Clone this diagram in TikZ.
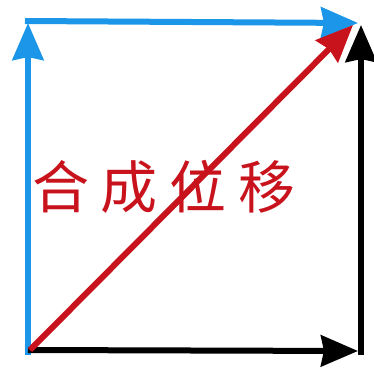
\documentclass[tikz,border=0pt]{standalone}
\usepackage{fontspec}
\newfontfamily\cjk{Noto Sans CJK SC}
\usetikzlibrary{arrows.meta}
\definecolor{vblue}{RGB}{27,150,232}
\definecolor{vred}{RGB}{200,18,28}
\tikzset{
  vec/.style={line width=6pt, -{Stealth[length=37pt,width=31pt,inset=3pt]}},
}
\begin{document}
\begin{tikzpicture}[x=1pt,y=1pt]
\useasboundingbox (0,0) rectangle (374,368);
\coordinate (O) at (28,18);
\coordinate (Ob) at (28,13);
\coordinate (A) at (28,345);
\coordinate (Al) at (25,347);
\coordinate (B) at (358,345);
\coordinate (C) at (361,13);
\coordinate (Cr) at (358,17);
\coordinate (Ct) at (361,343);
\coordinate (Rt) at (353,343);
\coordinate (Ro) at (30,18);
\draw[vec, vblue] (Ob) -- (A);
\draw[vec, vblue] (Al) -- (B);
\draw[vec, black] (C) -- (Ct);
\draw[vec, black] (O) -- (Cr);
\draw[vec, vred] (Ro) -- (Rt);
\node[text=vred, font=\cjk\fontsize{57}{57}\selectfont, inner sep=0pt] (T) at (164,181)
  {合\hspace{12pt}成\hspace{12pt}位\hspace{12pt}移};
\end{tikzpicture}
\end{document}
